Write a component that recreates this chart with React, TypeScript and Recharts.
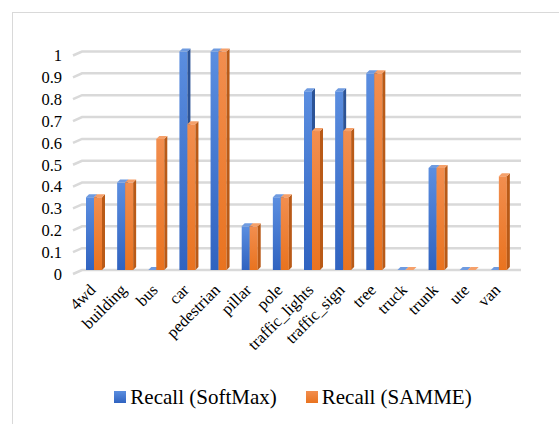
import React from 'react';
import { BarChart, Bar, XAxis, YAxis, CartesianGrid, Legend } from 'recharts';

const categories = ['4wd', 'building', 'bus', 'car', 'pedestrian', 'pillar', 'pole', 'traffic_lights', 'traffic_sign', 'tree', 'truck', 'trunk', 'ute', 'van'];
const softmaxRecall = [0.333, 0.4, 0, 1, 1, 0.2, 0.333, 0.818, 0.818, 0.9, 0, 0.467, 0, 0];
const sammeRecall = [0.333, 0.4, 0.6, 0.667, 1, 0.2, 0.333, 0.636, 0.636, 0.9, 0, 0.467, 0, 0.429];
const yTicks = [0, 0.1, 0.2, 0.3, 0.4, 0.5, 0.6, 0.7, 0.8, 0.9, 1];
const seriesNames = ['Recall (SoftMax)', 'Recall (SAMME)'];

const data = categories.map((name, i) => ({ name, softmax: softmaxRecall[i], samme: sammeRecall[i] }));

const FONT = "'Liberation Serif', 'Times New Roman', serif";
const DX = 3;
const DY = 3;

const palettes: Record<string, { front: string; side: string; top: string }> = {
  blue: { front: 'url(#blueFront)', side: '#2c5396', top: '#6f9be0' },
  orange: { front: 'url(#orangeFront)', side: '#b95a17', top: '#f5a06a' },
};

// Bar drawn as a box: front face, right side face and top face.
function Box3D(props: any) {
  const { x, y, width, height, tone } = props;
  const p = palettes[tone];
  const w = width;
  const h = Math.max(0, height);
  return (
    <g>
      <rect x={x} y={y} width={w} height={h} fill={p.front} />
      <polygon
        points={`${x + w},${y} ${x + w + DX},${y - DY} ${x + w + DX},${y + h - DY} ${x + w},${y + h}`}
        fill={p.side}
      />
      <polygon
        points={`${x},${y} ${x + DX},${y - DY} ${x + w + DX},${y - DY} ${x + w},${y}`}
        fill={p.top}
      />
    </g>
  );
}

// Back-wall gridline with a short slanted piece on the side wall.
function GridLine(props: any) {
  const { x1, x2, y1 } = props;
  return (
    <polyline
      points={`${x1 - 5},${y1 + 4} ${x1 + 4},${y1} ${x2 + 7},${y1}`}
      fill="none"
      stroke="#d9d9d9"
      strokeWidth={2.5}
    />
  );
}

const renderYTick = (props: any) => {
  const { y, payload, index } = props;
  return (
    <text key={`yt-${index}`} x={62} y={y + 4} dy="0.35em" textAnchor="end" style={{ fontFamily: FONT, fontSize: 16.5 }} fill="#000">
      {payload.value}
    </text>
  );
};

const renderXTick = (props: any) => {
  const { x, payload, index } = props;
  return (
    <g key={`xt-${index}`} transform={`translate(${x + 3},${291})`}>
      <text transform="rotate(-45)" textAnchor="end" style={{ fontFamily: FONT, fontSize: 16.5 }} fill="#000">
        {payload.value}
      </text>
    </g>
  );
};

function LegendBox() {
  const item = (label: string, bg: string) => (
    <div style={{ display: 'flex', alignItems: 'center' }}>
      <span style={{ display: 'inline-block', width: 12, height: 12, background: bg, marginRight: 4 }} />
      <span>{label}</span>
    </div>
  );
  return (
    <div
      style={{
        display: 'flex',
        justifyContent: 'center',
        alignItems: 'center',
        gap: 29,
        height: 30,
        fontFamily: FONT,
        fontSize: 21,
        color: '#000',
        whiteSpace: 'nowrap',
      }}
    >
      {item(seriesNames[0], 'linear-gradient(#5b8ee0, #3063c0)')}
      {item(seriesNames[1], 'linear-gradient(#f28e4f, #e9731f)')}
    </div>
  );
}

export default function App() {
  return (
    <div style={{ position: 'absolute', left: 0, top: 0, width: 559, height: 424, overflow: 'hidden', background: '#fff' }}>
      <div
        style={{
          position: 'absolute',
          left: 12,
          top: 12,
          width: 600,
          height: 500,
          border: '1.5px solid #d9d9d9',
        }}
      />
      <div style={{ position: 'absolute', left: 0, top: 0 }}>
        <BarChart
          width={559}
          height={424}
          data={data}
          margin={{ top: 51.5, right: 45, left: 0, bottom: 24 }}
          barGap={0}
          barSize={8}
        >
          <defs>
            <linearGradient id="blueFront" x1="0" y1="0" x2="0" y2="1">
              <stop offset="0%" stopColor="#5b8ee0" />
              <stop offset="100%" stopColor="#3063c0" />
            </linearGradient>
            <linearGradient id="orangeFront" x1="0" y1="0" x2="0" y2="1">
              <stop offset="0%" stopColor="#f28e4f" />
              <stop offset="100%" stopColor="#e9731f" />
            </linearGradient>
          </defs>
          <CartesianGrid vertical={false} horizontal={(p: any) => <GridLine key={p.key} {...p} />} />
          <XAxis dataKey="name" interval={0} axisLine={false} tickLine={false} height={100} tick={renderXTick} />
          <YAxis
            domain={[0, 1]}
            ticks={yTicks}
            interval={0}
            width={78}
            axisLine={false}
            tickLine={false}
            tick={renderYTick}
          />
          <Legend
            verticalAlign="bottom"
            wrapperStyle={{ left: 0, width: 586, top: 382, bottom: 'auto', height: 30 }}
            content={() => <LegendBox />}
          />
          <Bar dataKey="softmax" name={seriesNames[0]} isAnimationActive={false} shape={(p: any) => <Box3D {...p} tone="blue" />} />
          <Bar dataKey="samme" name={seriesNames[1]} isAnimationActive={false} shape={(p: any) => <Box3D {...p} tone="orange" />} />
        </BarChart>
      </div>
    </div>
  );
}
